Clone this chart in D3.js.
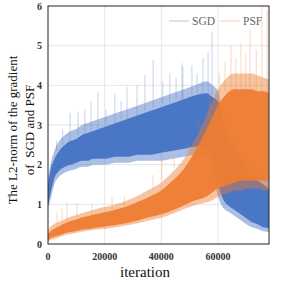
<!DOCTYPE html>
<html>
<head>
<meta charset="utf-8">
<script src="https://cdn.jsdelivr.net/npm/d3@7"></script>
<style>
  body { margin: 0; background: #fff; }
  text { font-family: "Liberation Serif", "Times New Roman", serif; }
</style>
</head>
<body>
<script>
"use strict";

// iteration bins, values
const iters = [0, 1000, 2000, 4000, 6000, 8000, 10000, 12000, 14000, 16000, 18000, 20000,
  24000, 28000, 32000, 36000, 40000, 44000, 48000, 52000, 56000, 58000, 60000, 62000,
  64000, 66000, 68000, 70000, 72000, 74000, 76000, 78000];

// SGD: dense band (lo/hi) and faint fringe (fLo/fHi)
const sgdLo  = [1.0, 1.3, 1.6, 1.85, 1.95, 2.0, 2.05, 2.1, 2.1, 2.15, 2.15, 2.15,
  2.2, 2.2, 2.25, 2.25, 2.3, 2.35, 2.4, 2.45, 2.4, 2.2, 1.5, 1.1,
  0.95, 0.85, 0.75, 0.65, 0.55, 0.5, 0.42, 0.4];
const sgdHi  = [1.5, 1.9, 2.1, 2.35, 2.5, 2.6, 2.65, 2.75, 2.8, 2.85, 2.9, 2.95,
  3.05, 3.15, 3.25, 3.35, 3.45, 3.55, 3.65, 3.75, 3.8, 3.7, 3.6, 3.0,
  2.6, 2.3, 2.1, 1.9, 1.7, 1.6, 1.5, 1.4];
const sgdFLo = [0.9, 1.15, 1.45, 1.7, 1.8, 1.85, 1.9, 1.95, 1.95, 2.0, 2.0, 2.0,
  2.05, 2.05, 2.1, 2.1, 2.1, 2.15, 2.2, 2.25, 2.2, 1.9, 1.2, 0.9,
  0.8, 0.7, 0.6, 0.5, 0.42, 0.38, 0.32, 0.3];
const sgdFHi = [1.65, 2.05, 2.3, 2.6, 2.75, 2.85, 2.9, 3.0, 3.05, 3.1, 3.15, 3.2,
  3.3, 3.4, 3.5, 3.6, 3.7, 3.8, 3.9, 4.0, 4.1, 4.0, 3.85, 3.2,
  2.8, 2.5, 2.3, 2.1, 1.9, 1.8, 1.7, 1.6];

// PSF
const psfLo  = [0.1, 0.15, 0.18, 0.22, 0.27, 0.3, 0.33, 0.36, 0.38, 0.4, 0.42, 0.44,
  0.48, 0.53, 0.6, 0.68, 0.75, 0.85, 0.98, 1.1, 1.2, 1.3, 1.4, 1.45,
  1.5, 1.55, 1.6, 1.6, 1.6, 1.6, 1.6, 1.55];
const psfHi  = [0.25, 0.32, 0.38, 0.45, 0.52, 0.58, 0.62, 0.67, 0.7, 0.74, 0.77, 0.8,
  0.87, 0.95, 1.07, 1.2, 1.35, 1.6, 1.9, 2.35, 2.9, 3.2, 3.5, 3.7,
  3.85, 3.9, 3.9, 3.9, 3.9, 3.85, 3.85, 3.8];
const psfFLo = [0.06, 0.1, 0.12, 0.17, 0.22, 0.25, 0.28, 0.31, 0.33, 0.35, 0.37, 0.38,
  0.42, 0.47, 0.53, 0.6, 0.66, 0.76, 0.88, 0.98, 1.05, 1.1, 1.2, 1.25,
  1.3, 1.35, 1.35, 1.4, 1.4, 1.4, 1.35, 1.35];
const psfFHi = [0.35, 0.45, 0.5, 0.56, 0.63, 0.69, 0.73, 0.78, 0.82, 0.86, 0.9, 0.93,
  1.0, 1.1, 1.23, 1.38, 1.55, 1.82, 2.15, 2.65, 3.25, 3.6, 3.9, 4.1,
  4.25, 4.3, 4.3, 4.3, 4.3, 4.25, 4.2, 4.15];

// isolated spikes [iteration, value]
const sgdSpikes = [[3000, 2.6], [5200, 2.9], [7800, 3.3], [10600, 3.33], [13000, 3.4],
  [15200, 3.6], [17600, 3.83], [20500, 3.4], [23600, 3.8], [25800, 3.6], [27900, 3.96],
  [31400, 4.0], [34200, 4.26], [37100, 4.64], [40500, 4.1], [43000, 4.3], [45200, 4.2],
  [47300, 4.56], [47600, 4.47], [50800, 4.5], [52600, 4.3], [54700, 4.7], [56500, 4.85],
  [57900, 5.35]];
const psfSpikes = [[3200, 0.8], [5000, 0.9], [6700, 1.06], [10200, 1.03], [15500, 1.0],
  [22600, 1.18], [27000, 1.2], [31800, 1.1], [37100, 1.74], [40200, 2.1], [44500, 2.2],
  [49500, 2.6], [53000, 3.2], [57000, 3.8], [60500, 4.3], [62500, 4.6], [64600, 5.0],
  [66300, 4.7], [68100, 5.05], [69800, 4.8], [71300, 5.4], [73500, 4.9], [75500, 6.2],
  [77300, 5.9]];

const xTicks = [0, 20000, 40000, 60000];
const yTicks = [0, 1, 2, 3, 4, 5, 6];
const seriesNames = ["SGD", "PSF"];
const colors = ["#4472c4", "#ed7d31"];

const width = 282, height = 282;
const margin = {top: 6, right: 13, bottom: 38, left: 48};

const svg = d3.select("body").append("svg")
    .attr("width", width)
    .attr("height", height);

const x = d3.scaleLinear().domain([0, 78000]).range([margin.left, width - margin.right]);
const y = d3.scaleLinear().domain([0, 6]).range([height - margin.bottom, margin.top]);

svg.append("defs").append("clipPath").attr("id", "plot")
  .append("rect")
    .attr("x", margin.left).attr("y", margin.top)
    .attr("width", x.range()[1] - margin.left)
    .attr("height", y.range()[0] - margin.top);

// grid
svg.append("g")
  .selectAll("line")
  .data(xTicks.slice(1))
  .join("line")
    .attr("x1", d => x(d)).attr("x2", d => x(d))
    .attr("y1", y(0)).attr("y2", y(6))
    .attr("stroke", "#e6e6e6");
svg.append("g")
  .selectAll("line")
  .data(yTicks.slice(1, -1))
  .join("line")
    .attr("x1", x(0)).attr("x2", x(78000))
    .attr("y1", d => y(d)).attr("y2", d => y(d))
    .attr("stroke", "#e6e6e6");

const plot = svg.append("g").attr("clip-path", "url(#plot)");

function band(lo, hi) {
    return d3.area()
        .x((d, i) => x(iters[i]))
        .y0((d, i) => y(lo[i]))
        .y1((d, i) => y(hi[i]))
        .curve(d3.curveMonotoneX)(iters);
}

function drawSeries(lo, hi, fLo, fHi, spikes, color) {
    const g = plot.append("g");
    g.selectAll("line")
      .data(spikes)
      .join("line")
        .attr("x1", d => x(d[0])).attr("x2", d => x(d[0]))
        .attr("y1", d => {
            const i = d3.bisectLeft(iters, d[0]);
            return y(hi[Math.min(i, hi.length - 1)]);
        })
        .attr("y2", d => y(d[1]))
        .attr("stroke", color)
        .attr("stroke-opacity", 0.3)
        .attr("stroke-width", 1);
    g.append("path")
        .attr("d", band(fLo, fHi))
        .attr("fill", color)
        .attr("fill-opacity", 0.45);
    g.append("path")
        .attr("d", band(lo, hi))
        .attr("fill", color)
        .attr("fill-opacity", 0.95);
}

drawSeries(sgdLo, sgdHi, sgdFLo, sgdFHi, sgdSpikes, colors[0]);
drawSeries(psfLo, psfHi, psfFLo, psfFHi, psfSpikes, colors[1]);

// frame
svg.append("rect")
    .attr("x", x(0)).attr("y", y(6))
    .attr("width", x(78000) - x(0))
    .attr("height", y(0) - y(6))
    .attr("fill", "none")
    .attr("stroke", "#222")
    .attr("stroke-width", 1);

// tick labels
svg.append("g")
  .selectAll("text")
  .data(xTicks)
  .join("text")
    .attr("x", d => x(d))
    .attr("y", y(0) + 16)
    .attr("text-anchor", "middle")
    .attr("font-size", 10)
    .attr("font-weight", "bold")
    .attr("fill", "#333")
    .text(d => d);
svg.append("g")
  .selectAll("text")
  .data(yTicks)
  .join("text")
    .attr("x", x(0) - 6)
    .attr("y", d => y(d) + 3.5)
    .attr("text-anchor", "end")
    .attr("font-size", 10)
    .attr("font-weight", "bold")
    .attr("fill", "#333")
    .text(d => d);

// axis titles
svg.append("text")
    .attr("x", 145)
    .attr("y", 277)
    .attr("text-anchor", "middle")
    .attr("font-size", 15)
    .attr("fill", "#111")
    .text("iteration");

const yTitle = svg.append("text")
    .attr("transform", "translate(0,130) rotate(-90)")
    .attr("text-anchor", "middle")
    .attr("font-size", 13)
    .attr("fill", "#111");
yTitle.append("tspan").attr("x", 0).attr("y", 16.5).text("The L2-norm of the gradient");
yTitle.append("tspan").attr("x", 0).attr("y", 34).attr("xml:space", "preserve").text("of  SGD and PSF");

// legend
const legendX = [169, 220];
const legend = svg.append("g")
  .selectAll("g")
  .data(seriesNames)
  .join("g")
    .attr("transform", (d, i) => `translate(${legendX[i]},21)`);
legend.append("line")
    .attr("x1", 0).attr("x2", 20)
    .attr("stroke", (d, i) => colors[i])
    .attr("stroke-opacity", 0.4);
legend.append("text")
    .attr("x", 23)
    .attr("y", 4)
    .attr("font-size", 11.5)
    .attr("fill", "#666")
    .text(d => d);
</script>
</body>
</html>
